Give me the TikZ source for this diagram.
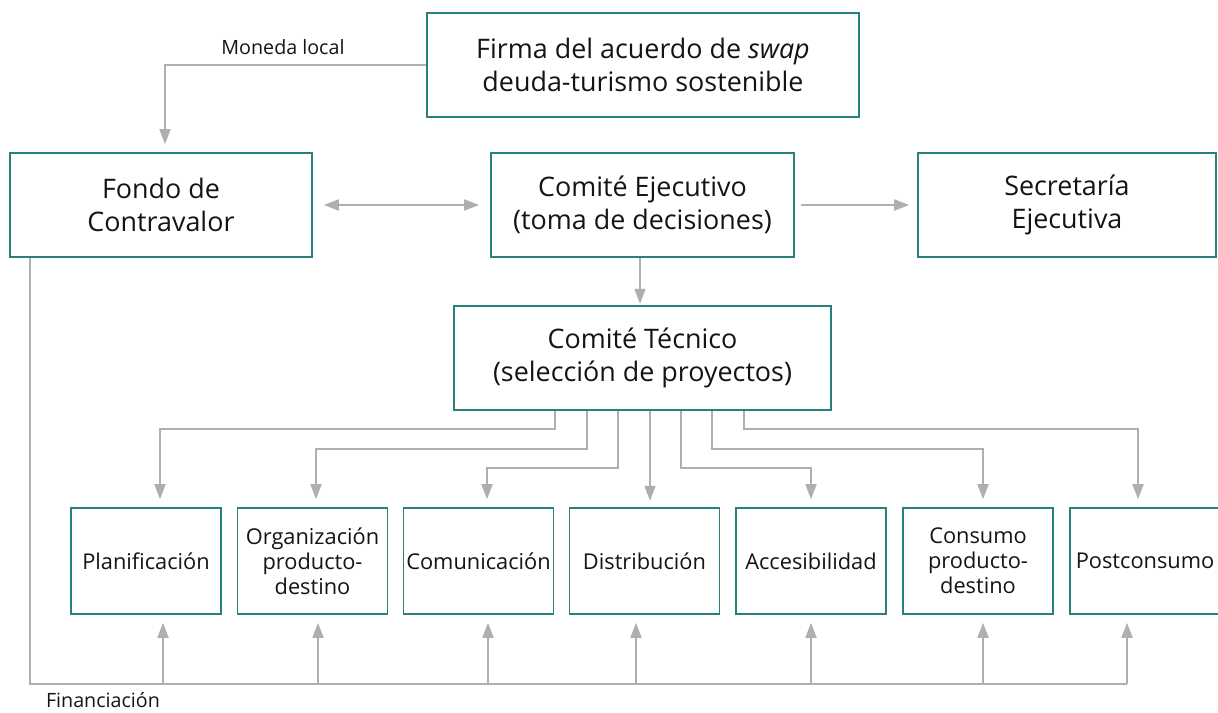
\documentclass[tikz,border=0pt]{standalone}
\usepackage{fontspec}
\setmainfont{Open Sans}
\usetikzlibrary{arrows.meta}
\definecolor{boxteal}{HTML}{2A807C}
\definecolor{linegray}{HTML}{ADAFB2}
\definecolor{txt}{HTML}{141414}
\begin{document}
\begin{tikzpicture}[
  bigbox/.style={draw=boxteal,line width=0.9pt,minimum height=2.08cm,inner sep=0pt,align=center,text=txt,font=\fontsize{15.3}{18.8}\selectfont},
  smallbox/.style={draw=boxteal,line width=0.9pt,minimum width=3cm,minimum height=2.12cm,inner sep=0pt,align=center,text=txt,font=\fontsize{12.4}{14.2}\selectfont},
  conn/.style={draw=linegray,line width=1pt},
  arr/.style={conn,-{Triangle[length=3mm,width=2.2mm]}},
  rarr/.style={conn,{Triangle[length=3mm,width=2.2mm]}-},
  darr/.style={conn,{Triangle[length=3mm,width=2.2mm]}-{Triangle[length=3mm,width=2.2mm]}},
  lbl/.style={text=txt,font=\fontsize{11.2}{13}\selectfont}
]
\useasboundingbox (0,0) rectangle (24.36,-14.26);
\node[bigbox,minimum width=8.64cm] (firma) at (12.86,-1.3) {Firma del acuerdo de \textit{swap}\\deuda-turismo sostenible};
\node[bigbox,minimum width=6.04cm] (fondo) at (3.22,-4.1) {Fondo de\\Contravalor};
\node[bigbox,minimum width=6.06cm] (ce) at (12.85,-4.1) {Comité Ejecutivo\\(toma de decisiones)};
\node[bigbox,minimum width=5.96cm] (sec) at (21.34,-4.1) {Secretaría\\Ejecutiva};
\node[bigbox,minimum width=7.54cm] (tec) at (12.85,-7.16) {Comité Técnico\\(selección de proyectos)};

\node[smallbox] (plan) at (2.92,-11.22) {Planificación};
\node[smallbox] (org) at (6.25,-11.22) {Organización\\producto-\\destino};
\node[smallbox] (com) at (9.57,-11.22) {Comunicación};
\node[smallbox] (dist) at (12.89,-11.22) {Distribución};
\node[smallbox] (acc) at (16.22,-11.22) {Accesibilidad};
\node[smallbox] (cons) at (19.56,-11.22) {Consumo\\producto-\\destino};
\node[smallbox] (post) at (22.9,-11.22) {Postconsumo};

\draw[arr,shorten >=0.16cm] (firma.west) -| ([xshift=0.08cm]fondo.north);
\node[lbl] (moneda) at (5.66,-0.94) {Moneda local};
\draw[darr,shorten <=0.22cm,shorten >=0.22cm] (fondo.east) -- (ce.west);
\draw[arr,shorten <=0.12cm,shorten >=0.16cm] (ce.east) -- (sec.west);
\draw[arr] ([xshift=-0.05cm]ce.south) -- ++(0,-0.92);

\draw[arr] ([xshift=-1.75cm]tec.south) -- ++(0,-0.36) -| ([xshift=0.28cm,yshift=0.16cm]plan.north);
\draw[arr] ([xshift=-1.11cm]tec.south) -- ++(0,-0.76) -| ([xshift=0.07cm,yshift=0.16cm]org.north);
\draw[arr] ([xshift=-0.49cm]tec.south) -- ++(0,-1.14) -| ([xshift=0.17cm,yshift=0.16cm]com.north);
\draw[arr] ([xshift=0.15cm]tec.south) -- ++(0,-1.8);
\draw[arr] ([xshift=0.77cm]tec.south) -- ++(0,-1.14) -| ([yshift=0.16cm]acc.north);
\draw[arr] ([xshift=1.39cm]tec.south) -- ++(0,-0.76) -| ([xshift=0.1cm,yshift=0.16cm]cons.north);
\draw[arr] ([xshift=2.03cm]tec.south) -- ++(0,-0.36) -| ([xshift=-0.14cm,yshift=0.16cm]post.north);

\draw[conn] ([xshift=-2.62cm]fondo.south) -- ++(0,-8.52) -- ++(21.94,0);
\node[lbl] (fin) at (2.06,-14.0) {Financiación};
\draw[rarr,shorten <=0.16cm] ([xshift=0.34cm]plan.south) -- ++(0,-1.38);
\draw[rarr,shorten <=0.16cm] ([xshift=0.11cm]org.south) -- ++(0,-1.38);
\draw[rarr,shorten <=0.16cm] ([xshift=0.19cm]com.south) -- ++(0,-1.38);
\draw[rarr,shorten <=0.16cm] ([xshift=-0.17cm]dist.south) -- ++(0,-1.38);
\draw[rarr,shorten <=0.16cm] (acc.south) -- ++(0,-1.38);
\draw[rarr,shorten <=0.16cm] ([xshift=0.1cm]cons.south) -- ++(0,-1.38);
\draw[rarr,shorten <=0.16cm] ([xshift=-0.36cm]post.south) -- ++(0,-1.38);
\end{tikzpicture}
\end{document}
